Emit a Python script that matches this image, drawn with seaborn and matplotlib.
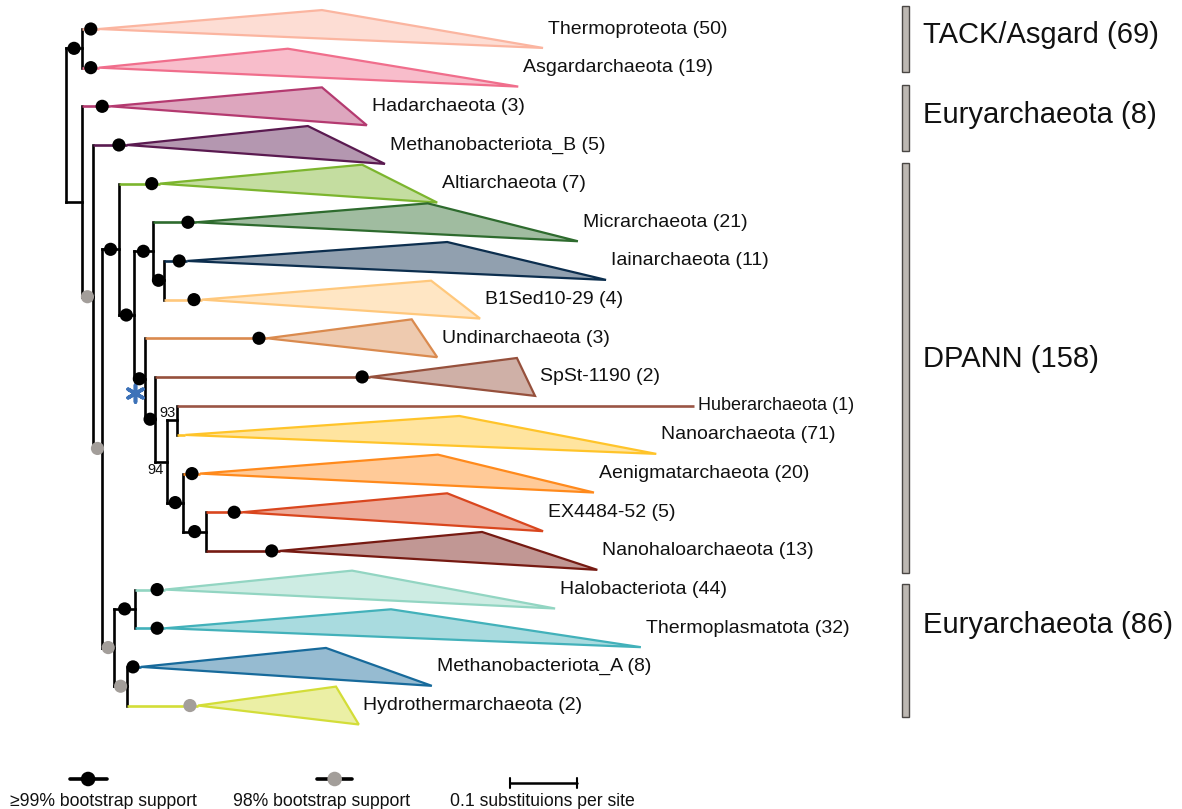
import matplotlib
matplotlib.use("Agg")
import matplotlib.pyplot as plt
import numpy as np
import pandas as pd
import seaborn as sns
from matplotlib.patches import Polygon, Rectangle

# ---------------- data ----------------
clades = ["Thermoproteota", "Asgardarchaeota", "Hadarchaeota", "Methanobacteriota_B",
          "Altiarchaeota", "Micrarchaeota", "Iainarchaeota", "B1Sed10-29",
          "Undinarchaeota", "SpSt-1190", "Huberarchaeota", "Nanoarchaeota",
          "Aenigmatarchaeota", "EX4484-52", "Nanohaloarchaeota", "Halobacteriota",
          "Thermoplasmatota", "Methanobacteriota_A", "Hydrothermarchaeota"]
genome_counts = [50, 19, 3, 5, 7, 21, 11, 4, 3, 2, 1, 71, 20, 5, 13, 44, 32, 8, 2]
# depth (substitutions/site from root) of each collapsed clade's node
clade_depth = [0.037, 0.037, 0.054, 0.079, 0.128, 0.182, 0.169, 0.191, 0.288, 0.442,
               0.166, 0.166, 0.188, 0.251, 0.307, 0.136, 0.136, 0.100, 0.185]
# shortest and longest tip depth inside each clade
clade_min_tip = [0.382, 0.331, 0.382, 0.361, 0.442, 0.540, 0.569, 0.545, 0.516, 0.673,
                 0.937, 0.587, 0.555, 0.569, 0.621, 0.427, 0.485, 0.388, 0.403]
clade_max_tip = [0.712, 0.675, 0.449, 0.476, 0.554, 0.764, 0.806, 0.618, 0.554, 0.700,
                 0.937, 0.881, 0.788, 0.712, 0.793, 0.730, 0.858, 0.546, 0.437]
clade_support = ["≥99%", "≥99%", "≥99%", "≥99%", "≥99%", "≥99%", "≥99%", "≥99%", "≥99%",
                 "≥99%", "none", "none", "≥99%", "≥99%", "≥99%", "≥99%", "≥99%", "≥99%", "98%"]
clade_colors = ["#FBB5A0", "#F06E8C", "#B43A70", "#5A1A50", "#7CB52E", "#2E6B2E",
                "#0C2E4E", "#FFC87C", "#DA8A4E", "#96503C", "#9A5545", "#FFC42A",
                "#FF8A1C", "#D9461E", "#761A12", "#92D5C2", "#42B1BA", "#176A9B", "#D3DD38"]

# internal nodes: depth, support, children (top to bottom)
node_names = ["root", "TA", "B", "C", "D", "E", "G", "H", "J", "I", "K", "L", "M", "N",
              "O", "F", "P", "Q"]
node_depth = [0.000, 0.024, 0.024, 0.040, 0.054, 0.079, 0.101, 0.130, 0.146, 0.118,
              0.133, 0.151, 0.166, 0.175, 0.209, 0.072, 0.103, 0.091]
node_support = ["none", "≥99%", "none", "98%", "98%", "≥99%", "≥99%", "≥99%", "≥99%",
                "≥99%", "≥99%", "94", "93", "≥99%", "≥99%", "98%", "≥99%", "98%"]
node_children = {
    "root": ["TA", "B"],
    "TA": ["Thermoproteota", "Asgardarchaeota"],
    "B": ["Hadarchaeota", "C"],
    "C": ["Methanobacteriota_B", "D"],
    "D": ["E", "F"],
    "E": ["Altiarchaeota", "G"],
    "G": ["H", "I"],
    "H": ["Micrarchaeota", "J"],
    "J": ["Iainarchaeota", "B1Sed10-29"],
    "I": ["Undinarchaeota", "K"],
    "K": ["SpSt-1190", "L"],
    "L": ["M", "N"],
    "M": ["Huberarchaeota", "Nanoarchaeota"],
    "N": ["Aenigmatarchaeota", "O"],
    "O": ["EX4484-52", "Nanohaloarchaeota"],
    "F": ["P", "Q"],
    "P": ["Halobacteriota", "Thermoplasmatota"],
    "Q": ["Methanobacteriota_A", "Hydrothermarchaeota"],
}

groups = ["TACK/Asgard", "Euryarchaeota", "DPANN", "Euryarchaeota"]
group_counts = [69, 8, 158, 86]

legend_texts = ["≥99% bootstrap support", "98% bootstrap support", "0.1 substituions per site"]
scale_length = 0.1

# ---------------- layout ----------------
W, H = 1182, 809
PX_PER_UNIT = 670.0
X0_PX = 66.0
ROW_PX = 38.66
Y0_PX = 29.0
group_bar_rows = [(-0.595, 1.112), (1.449, 3.156), (3.466, 14.07), (14.36, 17.80)]
group_label_rows = [0.155, 2.224, 8.536, 15.42]
bar_x, bar_w = 1.248, 0.0105
group_label_x = 1.279

sns.set_theme(style="white")
plt.rcParams["font.family"] = ["Liberation Sans", "DejaVu Sans"]

fig = plt.figure(figsize=(W / 100, H / 100), dpi=100)
ax = fig.add_axes([0, 0, 1, 1])
ax.set_xlim(-X0_PX / PX_PER_UNIT, (W - X0_PX) / PX_PER_UNIT)
ax.set_ylim((H - Y0_PX) / ROW_PX, -Y0_PX / ROW_PX)
ax.axis("off")

heights = np.where(np.array(genome_counts) == 1, 0.5, 1.0)
tip_y = np.cumsum(heights) - heights / 2 - 0.5

pos = {c: (clade_depth[i], tip_y[i]) for i, c in enumerate(clades)}
depth_of = dict(zip(node_names, node_depth))
support_of = dict(zip(node_names, node_support))
cidx = {c: i for i, c in enumerate(clades)}


def place(n):
    if n in pos:
        return pos[n][1]
    ys = [place(ch) for ch in node_children[n]]
    y = (ys[0] + ys[-1]) / 2
    pos[n] = (depth_of[n], y)
    return y


place("root")

LW = 1.9
APEX_GAP = 0.012
HALF = 0.49
dots = []

for parent, kids in node_children.items():
    px, _ = pos[parent]
    ys = [pos[k][1] for k in kids]
    ax.plot([px, px], [min(ys), max(ys)], color="black", lw=LW,
            solid_capstyle="projecting", zorder=3)
    for k in kids:
        kx, ky = pos[k]
        if k in cidx:
            i = cidx[k]
            col = clade_colors[i]
            if genome_counts[i] == 1:
                ax.plot([px, clade_max_tip[i]], [ky, ky], color=col, lw=LW,
                        solid_capstyle="butt", zorder=3)
            else:
                apex = kx + APEX_GAP
                ax.plot([px, apex], [ky, ky], color=col, lw=LW,
                        solid_capstyle="butt", zorder=3)
                verts = [(apex, ky), (clade_min_tip[i], ky - HALF),
                         (clade_max_tip[i], ky + HALF)]
                ax.add_patch(Polygon(verts, closed=True, facecolor=col, alpha=0.45,
                                     edgecolor="none", zorder=2))
                ax.add_patch(Polygon(verts, closed=True, facecolor="none",
                                     edgecolor=col, lw=1.6, joinstyle="miter",
                                     zorder=2.5))
            if clade_support[i] in ("≥99%", "98%"):
                dots.append((kx, ky, clade_support[i]))
            fs = 13 if genome_counts[i] == 1 else 14
            ax.text(clade_max_tip[i] + 0.007, ky, f"{k} ({genome_counts[i]})",
                    fontsize=fs, ha="left", va="center", color="#111111", zorder=4)
        else:
            ax.plot([px, kx], [ky, ky], color="black", lw=LW,
                    solid_capstyle="projecting", zorder=3)
            s = support_of[k]
            if s in ("≥99%", "98%"):
                dots.append(((px + kx) / 2, ky, s))

# support values printed as numbers
mx, my = pos["M"]
ax.text(mx - 0.015, my - 0.18, support_of["M"], fontsize=10.5, ha="center",
        va="center", color="#111111", zorder=4)
lx, ly = pos["L"]
ax.text(lx - 0.018, ly + 0.22, support_of["L"], fontsize=10.5, ha="center",
        va="center", color="#111111", zorder=4)

# asterisk marking DPANN node
kx_, ky_ = pos["K"]
ax.scatter([0.103], [ky_ - 0.68], marker=(6, 2, 0), s=150, color="#3D72B8",
           linewidths=2.6, zorder=6)

dots_df = pd.DataFrame(dots, columns=["x", "y", "support"])
palette = {"≥99%": "black", "98%": "#A39E9A"}
sns.scatterplot(data=dots_df, x="x", y="y", hue="support", palette=palette, s=90,
                linewidth=0, legend=False, zorder=6, ax=ax)

# group bars
for (y0, y1), yl, g, n in zip(group_bar_rows, group_label_rows, groups, group_counts):
    ax.add_patch(Rectangle((bar_x, y0), bar_w, y1 - y0, facecolor="#BDB8B2",
                           edgecolor="#4A4744", lw=1.0, zorder=3))
    ax.text(group_label_x, yl, f"{g} ({n})", fontsize=21, ha="left", va="center",
            color="#111111")

# legend at bottom
ly_line = 19.40
ly_text = 19.98
ax.plot([0.006, 0.061], [ly_line, ly_line], color="black", lw=2.6, zorder=3)
ax.plot([0.375, 0.427], [ly_line, ly_line], color="black", lw=2.6, zorder=3)
leg_df = pd.DataFrame({"x": [0.033, 0.401], "y": [ly_line, ly_line],
                       "support": ["≥99%", "98%"]})
sns.scatterplot(data=leg_df, x="x", y="y", hue="support", palette=palette, s=110,
                linewidth=0, legend=False, zorder=6, ax=ax)
sb_x0 = 0.663
sb_y = 19.50
ax.plot([sb_x0, sb_x0 + scale_length], [sb_y, sb_y], color="black", lw=1.8)
for xx in (sb_x0, sb_x0 + scale_length):
    ax.plot([xx, xx], [sb_y - 0.12, sb_y + 0.12], color="black", lw=1.5)
for xc, t in zip([0.056, 0.382, 0.711], legend_texts):
    ax.text(xc, ly_text, t, fontsize=12.7, ha="center", va="center", color="#111111")

fig.savefig("out.png", dpi=100)
